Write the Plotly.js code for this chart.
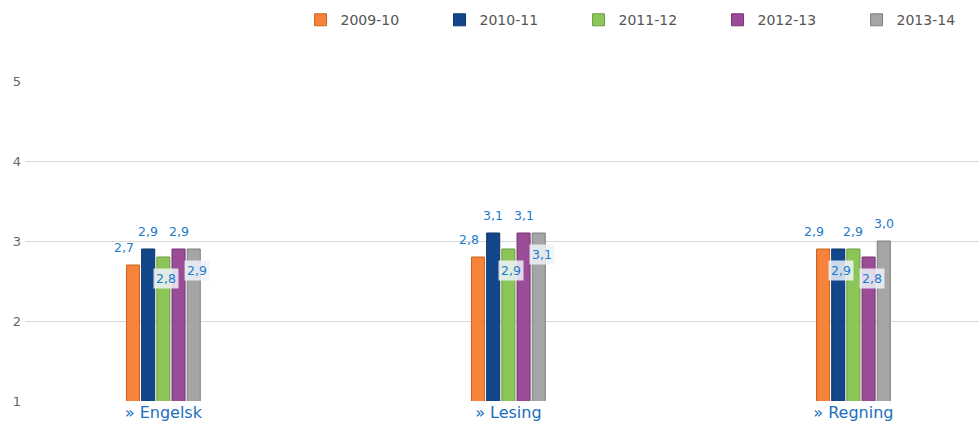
<!DOCTYPE html>
<html><head><meta charset="utf-8">
<script src="https://cdn.plot.ly/plotly-3.0.1.min.js"></script>
<style>html,body{margin:0;padding:0;background:#fff;}#chart{width:979px;height:421px;}</style>
</head><body><div id="chart"></div>
<script>
const categories = ["Engelsk", "Lesing", "Regning"];
const tickLabels = ["» Engelsk", "» Lesing", "» Regning"];
const seriesNames = ["2009-10", "2010-11", "2011-12", "2012-13", "2013-14"];
const v2009 = [2.7, 2.8, 2.9];
const v2010 = [2.9, 3.1, 2.9];
const v2011 = [2.8, 2.9, 2.9];
const v2012 = [2.9, 3.1, 2.8];
const v2013 = [2.9, 3.1, 3.0];
const seriesValues = [v2009, v2010, v2011, v2012, v2013];
const colors = ["#f7823a", "#12488b", "#8cc659", "#9b4c97", "#a5a5a5"];
const edgeColors = ["#c8651f", "#0b3266", "#6b9c40", "#773474", "#7e7e7e"];
// label placement per [category][series]: "a" above bar, "b" boxed below bar top
const placement = [["a","a","b","a","b"],["a","a","b","a","b"],["a","b","a","b","a"]];

const traces = seriesNames.map((name, i) => ({
  type: "bar", name: name, x: categories, y: seriesValues[i],
  marker: {color: colors[i], line: {color: edgeColors[i], width: 1}},
  hoverinfo: "none"
}));

const pitch = 15.2;
const annotations = [];
categories.forEach((cat, c) => {
  seriesValues.forEach((vals, i) => {
    const p = placement[c][i];
    const txt = vals[c].toFixed(1).replace(".", ",");
    let xs = (i - 2) * pitch;
    if (p === "a" && i === 0) xs -= 9;
    annotations.push({
      x: cat, y: vals[c], xref: "x", yref: "y",
      xshift: p === "b" ? xs + 3 : xs, yshift: p === "a" ? 18 : -21,
      text: txt, showarrow: false,
      font: {family: "DejaVu Sans, Verdana, sans-serif", size: 12.5, color: "#1b7ccc"},
      bgcolor: p === "b" ? "rgba(238,243,248,0.85)" : "rgba(0,0,0,0)",
      borderpad: 2
    });
  });
});

const layout = {
  width: 979, height: 421,
  margin: {l: 25, r: 0, t: 81, b: 20},
  paper_bgcolor: "#fff", plot_bgcolor: "#fff",
  barmode: "group", bargap: 0.78, bargroupgap: 0.14,
  font: {family: "DejaVu Sans, Verdana, sans-serif", color: "#666"},
  xaxis: {
    type: "category", range: [-0.401, 2.364],
    tickvals: categories, ticktext: tickLabels,
    tickfont: {size: 16, color: "#1a6fbd"}, ticks: "", showgrid: false,
    showline: false, zeroline: false, automargin: false, ticklabelstandoff: 0
  },
  yaxis: {
    range: [1, 5], tickvals: [1, 2, 3, 4, 5], showgrid: true, gridcolor: "#d9d9d9",
    tickfont: {size: 13, color: "#666"}, ticks: "", zeroline: false, automargin: false,
    ticklabelstandoff: 3
  },
  legend: {
    orientation: "h", xref: "container", yref: "container",
    x: 0.307, xanchor: "left", y: 0.952, yanchor: "middle",
    font: {size: 14, color: "#555"}, traceorder: "normal", entrywidth: 94
  },
  annotations: annotations,
  showlegend: true
};
Plotly.newPlot("chart", traces, layout, {displayModeBar: false, staticPlot: true});
</script></body></html>
